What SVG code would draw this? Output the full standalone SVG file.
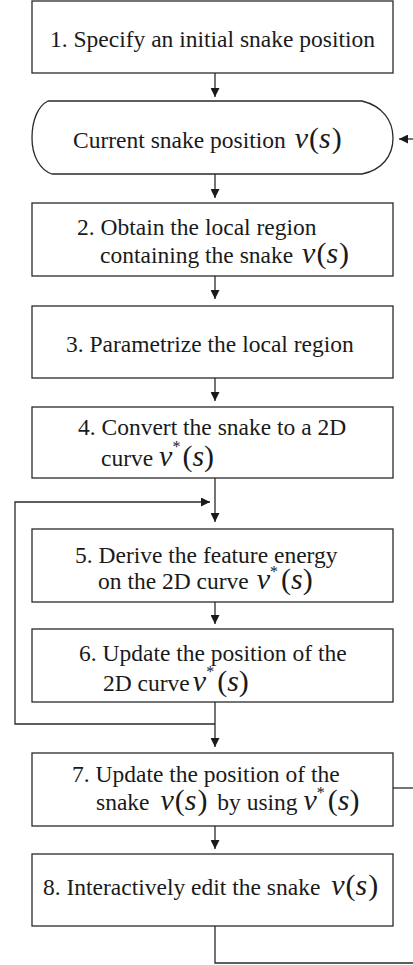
<svg xmlns="http://www.w3.org/2000/svg" width="413" height="965" viewBox="0 0 413 965">
  <defs>
    <marker id="arrow" viewBox="0 0 10 10" refX="10" refY="5" markerWidth="9" markerHeight="9" markerUnits="userSpaceOnUse" orient="auto">
      <path d="M0,0 L10,5 L0,10 z" fill="#1a1a1a"/>
    </marker>
  </defs>

  <!-- connectors -->
  <g id="connectors" fill="none" stroke="#2a2a2a" stroke-width="1.3">
    <line x1="215" y1="73" x2="215" y2="97" marker-end="url(#arrow)"/>
    <line x1="413" y1="139" x2="399" y2="139" marker-end="url(#arrow)"/>
    <line x1="215" y1="174" x2="215" y2="198" marker-end="url(#arrow)"/>
    <line x1="215" y1="276" x2="215" y2="299" marker-end="url(#arrow)"/>
    <line x1="215" y1="378" x2="215" y2="401" marker-end="url(#arrow)"/>
    <line x1="215" y1="478" x2="215" y2="522" marker-end="url(#arrow)"/>
    <polyline points="215,724 15,724 15,502 210,502" marker-end="url(#arrow)"/>
    <line x1="215" y1="602" x2="215" y2="624" marker-end="url(#arrow)"/>
    <line x1="215" y1="702" x2="215" y2="747" marker-end="url(#arrow)"/>
    <line x1="393" y1="788" x2="413" y2="788"/>
    <line x1="215" y1="826" x2="215" y2="849" marker-end="url(#arrow)"/>
    <polyline points="215,926 215,963 413,963"/>
  </g>

  <!-- node outlines -->
  <g fill="#fff" stroke="#2a2a2a" stroke-width="1.3">
    <rect id="step1-box" x="32" y="1" width="361" height="72"/>
    <path id="current-box" d="M48,101 L362,101 C382,106 393,120 393,138 C393,156 382,170 362,174 L52,174 C40,170 32,156 32,138 C32,120 38,106 48,101 Z"/>
    <rect id="step2-box" x="32" y="203" width="361" height="73"/>
    <rect id="step3-box" x="32" y="306" width="361" height="72"/>
    <rect id="step4-box" x="32" y="407" width="361" height="71"/>
    <rect id="step5-box" x="32" y="529" width="361" height="73"/>
    <rect id="step6-box" x="32" y="629" width="361" height="73"/>
    <rect id="step7-box" x="32" y="753" width="361" height="73"/>
    <rect id="step8-box" x="32" y="854" width="361" height="72"/>
  </g>

  <!-- node labels -->
  <g id="step1"><text x="50" y="47" font-family="Liberation Serif" font-size="23.5" fill="#1a1a1a">1. Specify an initial snake position</text></g>

  <g id="current-position"><text x="73" y="148" font-family="Liberation Serif" font-size="23.5" fill="#1a1a1a">Current snake position <tspan font-style="italic" font-size="30" dx="3">v</tspan><tspan font-size="30" dx="1">(</tspan><tspan font-style="italic" font-size="30">s</tspan><tspan font-size="30" dx="1">)</tspan></text></g>

  <g id="step2">
    <text x="77" y="235" font-family="Liberation Serif" font-size="23.5" fill="#1a1a1a">2. Obtain the local region</text>
    <text x="100" y="263" font-family="Liberation Serif" font-size="23.5" fill="#1a1a1a">containing the snake <tspan font-style="italic" font-size="30" dx="3">v</tspan><tspan font-size="30" dx="1">(</tspan><tspan font-style="italic" font-size="30">s</tspan><tspan font-size="30" dx="1">)</tspan></text>
  </g>

  <g id="step3"><text x="66" y="352" font-family="Liberation Serif" font-size="23.5" fill="#1a1a1a">3. Parametrize the local region</text></g>

  <g id="step4">
    <text x="78" y="435" font-family="Liberation Serif" font-size="23.5" fill="#1a1a1a">4. Convert the snake to a 2D</text>
    <text x="101" y="466" font-family="Liberation Serif" font-size="23.5" fill="#1a1a1a">curve <tspan font-style="italic" font-size="30">v</tspan><tspan font-size="16" dy="-14">*</tspan><tspan font-size="30" dy="14" dx="2">(</tspan><tspan font-style="italic" font-size="30">s</tspan><tspan font-size="30">)</tspan></text>
  </g>

  <g id="step5">
    <text x="75" y="563" font-family="Liberation Serif" font-size="23.5" fill="#1a1a1a">5. Derive the feature energy</text>
    <text x="98" y="589" font-family="Liberation Serif" font-size="23.5" fill="#1a1a1a">on the 2D curve <tspan font-style="italic" font-size="30" dx="2">v</tspan><tspan font-size="16" dy="-12">*</tspan><tspan font-size="30" dy="12" dx="3">(</tspan><tspan font-style="italic" font-size="30">s</tspan><tspan font-size="30">)</tspan></text>
  </g>

  <g id="step6">
    <text x="79" y="661" font-family="Liberation Serif" font-size="23.5" fill="#1a1a1a">6. Update the position of the</text>
    <text x="103" y="691" font-family="Liberation Serif" font-size="23.5" fill="#1a1a1a">2D curve<tspan font-style="italic" font-size="30" dx="3">v</tspan><tspan font-size="16" dy="-14">*</tspan><tspan font-size="30" dy="14" dx="3">(</tspan><tspan font-style="italic" font-size="30">s</tspan><tspan font-size="30">)</tspan></text>
  </g>

  <g id="step7">
    <text x="72" y="782" font-family="Liberation Serif" font-size="23.5" fill="#1a1a1a">7. Update the position of the</text>
    <text x="96" y="810" font-family="Liberation Serif" font-size="23.5" fill="#1a1a1a">snake <tspan font-style="italic" font-size="30" dx="5">v</tspan><tspan font-size="30" dx="1">(</tspan><tspan font-style="italic" font-size="30">s</tspan><tspan font-size="30" dx="1">)</tspan><tspan dx="4"> by using </tspan><tspan font-style="italic" font-size="30">v</tspan><tspan font-size="16" dy="-12">*</tspan><tspan font-size="30" dy="12" dx="3">(</tspan><tspan font-style="italic" font-size="30">s</tspan><tspan font-size="30">)</tspan></text>
  </g>

  <g id="step8"><text x="43" y="895" font-family="Liberation Serif" font-size="23.5" fill="#1a1a1a">8. Interactively edit the snake <tspan font-style="italic" font-size="30" dx="5">v</tspan><tspan font-size="30" dx="1">(</tspan><tspan font-style="italic" font-size="30">s</tspan><tspan font-size="30" dx="1">)</tspan></text></g>
</svg>
